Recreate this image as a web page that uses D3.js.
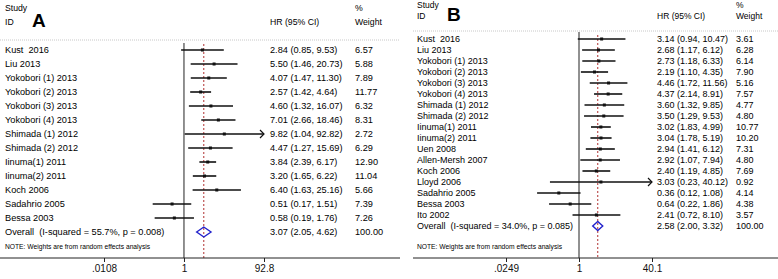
<!DOCTYPE html>
<html><head><meta charset="utf-8">
<script src="https://cdn.jsdelivr.net/npm/d3@7"></script>
<style>
body{margin:0;background:#fff;}
svg{display:block;font-family:"Liberation Sans",Arial,sans-serif;}
text{white-space:pre;}
</style></head>
<body>
<svg id="chart" width="778" height="279"></svg>
<script>
// ---------- Panel A data ----------
const studiesA = ["Kust  2016","Liu 2013","Yokobori (1) 2013","Yokobori (2) 2013","Yokobori (3) 2013","Yokobori (4) 2013","Shimada (1) 2012","Shimada (2) 2012","Iinuma(1) 2011","Iinuma(2) 2011","Koch 2006","Sadahrio 2005","Bessa 2003"];
const hrA    = [2.84,5.50,4.07,2.57,4.60,7.01,9.82,4.47,3.84,3.20,6.40,0.51,0.58];
const lowA   = [0.85,1.46,1.47,1.42,1.32,2.66,1.04,1.27,2.39,1.65,1.63,0.17,0.19];
const highA  = [9.53,20.73,11.30,4.64,16.07,18.46,92.82,15.69,6.17,6.22,25.16,1.51,1.76];
const weightA= [6.57,5.88,7.89,11.77,6.32,8.31,2.72,6.29,12.90,11.04,5.66,7.39,7.26];
const overallA = {label:"Overall  (I-squared = 55.7%, p = 0.008)", hr:3.07, low:2.05, high:4.62, weight:100.00};
const ticksA = [0.0108, 1, 92.8];
const tickLabelsA = [".0108","1","92.8"];

// ---------- Panel B data ----------
const studiesB = ["Kust  2016","Liu 2013","Yokobori (1) 2013","Yokobori (2) 2013","Yokobori (3) 2013","Yokobori (4) 2013","Shimada (1) 2012","Shimada (2) 2012","Iinuma(1) 2011","Iinuma(2) 2011","Uen 2008","Allen-Mersh 2007","Koch 2006","Lloyd 2006","Sadahrio 2005","Bessa 2003","Ito 2002"];
const hrB    = [3.14,2.68,2.73,2.19,4.46,4.37,3.60,3.50,3.02,3.04,2.94,2.92,2.40,3.03,0.36,0.64,2.41];
const lowB   = [0.94,1.17,1.18,1.10,1.72,2.14,1.32,1.29,1.83,1.78,1.41,1.07,1.19,0.23,0.12,0.22,0.72];
const highB  = [10.47,6.12,6.33,4.35,11.56,8.91,9.85,9.53,4.99,5.19,6.12,7.94,4.85,40.12,1.08,1.86,8.10];
const weightB= [3.61,6.28,6.14,7.90,5.16,7.57,4.77,4.80,10.77,10.20,7.31,4.80,7.69,0.92,4.14,4.38,3.57];
const overallB = {label:"Overall  (I-squared = 34.0%, p = 0.085)", hr:2.58, low:2.00, high:3.32, weight:100.00};
const ticksB = [0.0249, 1, 40.1];
const tickLabelsB = [".0249","1","40.1"];

const note = "NOTE: Weights are from random effects analysis";

const svg = d3.select("#chart");

function drawPanel(cfg){
  const g = svg.append("g");
  const n = cfg.studies.length;
  const x = d3.scaleLog().domain([cfg.ticks[0], cfg.ticks[2]]).range([cfg.xLo, cfg.xHi]);
  const y = d3.scaleLinear().domain([0, n]).range([cfg.yFirst, cfg.yFirst + n*cfg.step]);
  const fs = cfg.fs;

  // headers
  g.append("text").attr("x",cfg.labelX).attr("y",cfg.hdrY1).attr("font-size",fs-0.5).text("Study");
  g.append("text").attr("x",cfg.labelX).attr("y",cfg.hdrY2).attr("font-size",fs-0.5).text("ID");
  g.append("text").attr("x",cfg.letterX).attr("y",cfg.hdrY2+2).attr("font-size",19).attr("font-weight","bold").text(cfg.letter);
  g.append("text").attr("x",cfg.wX).attr("y",cfg.hdrY1).attr("font-size",fs-0.5).text("%");
  g.append("text").attr("x",cfg.hrX).attr("y",cfg.hdrY2).attr("font-size",fs-0.5).text("HR (95% CI)");
  g.append("text").attr("x",cfg.wX).attr("y",cfg.hdrY2).attr("font-size",fs-0.5).text("Weight");
  g.append("line").attr("x1",cfg.lineX1).attr("x2",cfg.lineX2).attr("y1",cfg.hdrLineY).attr("y2",cfg.hdrLineY)
    .attr("stroke","#c8c8c8").attr("stroke-width",1).attr("stroke-dasharray","1,1");

  // null line at 1
  g.append("line").attr("x1",x(1)).attr("x2",x(1)).attr("y1",cfg.nullTop).attr("y2",cfg.axisY)
    .attr("stroke","#222").attr("stroke-width",1);
  // overall dashed line
  g.append("line").attr("x1",x(cfg.overall.hr)).attr("x2",x(cfg.overall.hr)).attr("y1",cfg.hdrLineY+4).attr("y2",cfg.axisY)
    .attr("stroke","#b03030").attr("stroke-width",1).attr("stroke-dasharray","2,2");

  const rows = d3.range(n);
  const fmt = v => v.toFixed(2);
  rows.forEach(i=>{
    const hi = Math.min(cfg.high[i], cfg.ticks[2]);
    const lo = Math.max(cfg.low[i], cfg.ticks[0]);
    const yy = y(i);
    g.append("line").attr("x1",x(lo)).attr("x2",x(hi)).attr("y1",yy).attr("y2",yy)
      .attr("stroke","#111").attr("stroke-width",1.6);
    if(cfg.high[i] > cfg.ticks[2]){
      const ax = x(cfg.ticks[2]);
      g.append("path").attr("d",`M${ax-4},${yy-4}L${ax},${yy}L${ax-4},${yy+4}`)
        .attr("fill","none").attr("stroke","#111").attr("stroke-width",1.2);
    }
    g.append("rect").attr("x",x(cfg.hr[i])-1.5).attr("y",yy-1.5).attr("width",3).attr("height",3).attr("fill","#111");
    g.append("text").attr("x",cfg.labelX).attr("y",yy).attr("dy","0.35em").attr("font-size",fs).text(cfg.studies[i]);
    g.append("text").attr("x",cfg.hrX).attr("y",yy).attr("dy","0.35em").attr("font-size",fs)
      .text(`${fmt(cfg.hr[i])} (${fmt(cfg.low[i])}, ${fmt(cfg.high[i])})`);
    g.append("text").attr("x",cfg.wX).attr("y",yy).attr("dy","0.35em").attr("font-size",fs).text(fmt(cfg.weight[i]));
  });

  // overall
  const oy = y(n), o = cfg.overall, dh = cfg.diamondH;
  g.append("path").attr("d",`M${x(o.low)},${oy}L${x(o.hr)},${oy-dh}L${x(o.high)},${oy}L${x(o.hr)},${oy+dh}Z`)
    .attr("fill","none").attr("stroke","#2222cc").attr("stroke-width",1.4);
  g.append("text").attr("x",cfg.labelX).attr("y",oy).attr("dy","0.35em").attr("font-size",fs).text(o.label);
  g.append("text").attr("x",cfg.hrX).attr("y",oy).attr("dy","0.35em").attr("font-size",fs)
    .text(`${fmt(o.hr)} (${fmt(o.low)}, ${fmt(o.high)})`);
  g.append("text").attr("x",cfg.wX).attr("y",oy).attr("dy","0.35em").attr("font-size",fs).text(fmt(o.weight));

  // note
  g.append("text").attr("x",cfg.labelX).attr("y",cfg.noteY).attr("font-size",6.7).text(note);

  // axis
  g.append("line").attr("x1",cfg.lineX1).attr("x2",cfg.lineX2).attr("y1",cfg.axisY).attr("y2",cfg.axisY)
    .attr("stroke","#222").attr("stroke-width",1);
  const axis = d3.axisBottom(x).tickValues(cfg.ticks).tickSize(4).tickPadding(3)
    .tickFormat((d,i)=>cfg.tickLabels[i]);
  const ag = g.append("g").attr("transform",`translate(0,${cfg.axisY})`).call(axis);
  ag.select(".domain").remove();
  ag.selectAll("text").attr("font-size",10).attr("font-family","Liberation Sans, Arial, sans-serif").attr("fill","#111");
  ag.selectAll("line").attr("stroke","#222");
}

drawPanel({studies:studiesA,hr:hrA,low:lowA,high:highA,weight:weightA,overall:overallA,
  ticks:ticksA,tickLabels:tickLabelsA,letter:"A",
  xLo:104,xHi:264,yFirst:50,step:14.0,fs:9.2,
  labelX:5,letterX:32,hrX:270,wX:355,hdrY1:11,hdrY2:25,hdrLineY:40,lineX1:0,lineX2:400,
  nullTop:43,axisY:258,noteY:249,diamondH:5});

drawPanel({studies:studiesB,hr:hrB,low:lowB,high:highB,weight:weightB,overall:overallB,
  ticks:ticksB,tickLabels:tickLabelsB,letter:"B",
  xLo:506,xHi:652,yFirst:39,step:11.0,fs:9,
  labelX:417,letterX:447,hrX:657,wX:736,hdrY1:8,hdrY2:19,hdrLineY:31,lineX1:413,lineX2:778,
  nullTop:32,axisY:258,noteY:249,diamondH:4.5});
</script>
</body></html>
